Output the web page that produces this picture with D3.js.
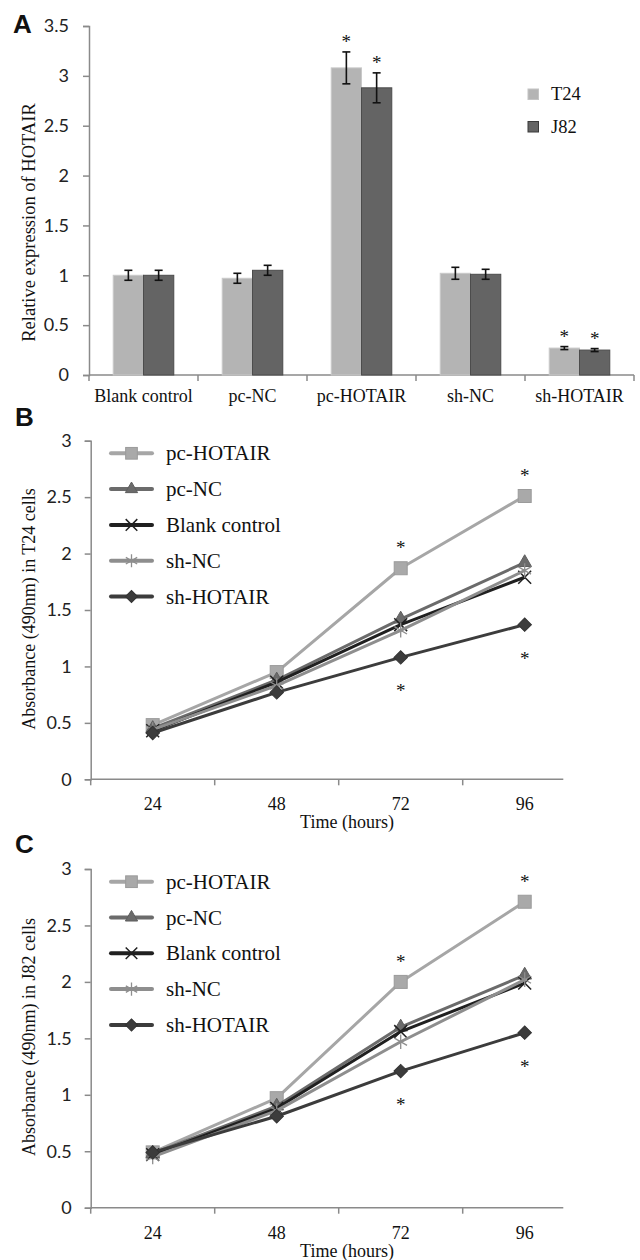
<!DOCTYPE html>
<html><head><meta charset="utf-8">
<script src="https://cdn.jsdelivr.net/npm/d3@7"></script>
<style>body{margin:0;background:#fff}svg{display:block}</style>
</head><body>
<svg id="chart" width="640" height="1260"></svg>
<script>
// ---------- data ----------
const categories = ["Blank control", "pc-NC", "pc-HOTAIR", "sh-NC", "sh-HOTAIR"];
const cellLines = ["T24", "J82"];
const t24Values = [1.00, 0.97, 3.08, 1.02, 0.27];
const t24Errors = [0.05, 0.05, 0.16, 0.06, 0.015];
const j82Values = [1.00, 1.05, 2.88, 1.01, 0.25];
const j82Errors = [0.05, 0.05, 0.15, 0.05, 0.015];
const barSignificant = [false, false, true, false, true];
const barTicks = [0, 0.5, 1, 1.5, 2, 2.5, 3, 3.5];

const timePoints = [24, 48, 72, 96];
const groups = ["pc-HOTAIR", "pc-NC", "Blank control", "sh-NC", "sh-HOTAIR"];
const pcHotairT24 = [0.48, 0.95, 1.87, 2.51];
const pcNcT24 = [0.45, 0.88, 1.42, 1.92];
const blankT24 = [0.43, 0.86, 1.37, 1.79];
const shNcT24 = [0.44, 0.83, 1.32, 1.85];
const shHotairT24 = [0.41, 0.77, 1.08, 1.37];
const pcHotairJ82 = [0.49, 0.97, 2.00, 2.71];
const pcNcJ82 = [0.48, 0.90, 1.60, 2.06];
const blankJ82 = [0.47, 0.88, 1.56, 1.99];
const shNcJ82 = [0.45, 0.86, 1.47, 2.02];
const shHotairJ82 = [0.49, 0.81, 1.21, 1.55];
const lineSigUp = [false, false, true, true];     // pc-HOTAIR
const lineSigDown = [false, false, true, true];   // sh-HOTAIR
const lineTicks = [0, 0.5, 1, 1.5, 2, 2.5, 3];

// ---------- styles ----------
const SERIF = "'Liberation Serif','Times New Roman',serif";
const SANS = "Lato,'Open Sans',sans-serif";
const AXIS = "#8a8a8a";
const barFill = {T24: "#b4b4b4", J82: "#646464"};
const barStroke = {T24: "#c9c9c9", J82: "#4c4c4c"};
const seriesStyle = {
  "pc-HOTAIR": {color: "#a6a6a6", marker: "square", mfill: "#a9a9a9", mstroke: "#9b9b9b"},
  "pc-NC": {color: "#6b6b6b", marker: "triangle", mfill: "#6b6b6b", mstroke: "#5e5e5e"},
  "Blank control": {color: "#202020", marker: "x", mfill: "none", mstroke: "#202020"},
  "sh-NC": {color: "#8e8e8e", marker: "asterisk", mfill: "none", mstroke: "#8e8e8e"},
  "sh-HOTAIR": {color: "#3c3c3c", marker: "diamond", mfill: "#3c3c3c", mstroke: "#333"}
};

const svg = d3.select("#chart");
svg.append("rect").attr("width", 640).attr("height", 1260).attr("fill", "#fff");

function panelLetter(t, x, y) {
  svg.append("text").text(t).attr("x", x).attr("y", y)
    .attr("font-family", "'Liberation Sans',Arial,sans-serif").attr("font-weight", "bold")
    .attr("font-size", 26).attr("fill", "#111");
}
function styleAxis(g) {
  g.select(".domain").attr("stroke", AXIS).attr("stroke-width", 1.5);
  g.selectAll(".tick line").attr("stroke", AXIS).attr("stroke-width", 1.5);
}

// ================= Panel A =================
(function () {
  const left = 89, right = 634, top = 26, bottom = 375;
  const y = d3.scaleLinear().domain([0, 3.5]).range([bottom, top]);
  const x0 = d3.scaleBand().domain(categories).range([left, right]);
  const x1 = d3.scaleBand().domain(cellLines).range([0, x0.bandwidth()]).paddingOuter(0.8);

  panelLetter("A", 13, 33);

  const ya = svg.append("g").attr("transform", `translate(${left},0)`)
    .call(d3.axisLeft(y).tickValues(barTicks).tickSize(6).tickPadding(14).tickFormat(d => String(d)));
  styleAxis(ya);
  ya.selectAll("text").attr("font-family", SANS).attr("font-size", 18).attr("fill", "#222");

  // bottom axis with ticks at band boundaries
  const xa = svg.append("g");
  xa.append("line").attr("x1", left).attr("x2", right).attr("y1", bottom).attr("y2", bottom)
    .attr("stroke", AXIS).attr("stroke-width", 1.5);
  const bounds = categories.map(c => x0(c)).concat([x0(categories[categories.length - 1]) + x0.bandwidth()]);
  xa.selectAll("line.tk").data(bounds).join("line").attr("class", "tk")
    .attr("x1", d => d).attr("x2", d => d).attr("y1", bottom).attr("y2", bottom + 6)
    .attr("stroke", AXIS).attr("stroke-width", 1.5);
  xa.selectAll("text").data(categories).join("text")
    .attr("x", d => x0(d) + x0.bandwidth() / 2).attr("y", bottom + 27)
    .attr("text-anchor", "middle").attr("font-family", SERIF).attr("font-size", 18).attr("fill", "#111")
    .text(d => d);

  svg.append("text").attr("transform", `translate(35,${(top + bottom) / 2 + 22}) rotate(-90)`)
    .attr("text-anchor", "middle").attr("font-family", SERIF).attr("font-size", 18.5).attr("fill", "#111")
    .text("Relative expression of HOTAIR");

  const rows = [];
  categories.forEach((c, i) => {
    rows.push({cat: c, line: "T24", v: t24Values[i], e: t24Errors[i], sig: barSignificant[i]});
    rows.push({cat: c, line: "J82", v: j82Values[i], e: j82Errors[i], sig: barSignificant[i]});
  });
  const bx = d => x0(d.cat) + x1(d.line);
  svg.append("g").selectAll("rect").data(rows).join("rect")
    .attr("x", bx).attr("width", x1.bandwidth())
    .attr("y", d => y(d.v)).attr("height", d => y(0) - y(d.v))
    .attr("fill", d => barFill[d.line]).attr("stroke", d => barStroke[d.line]).attr("stroke-width", 1);
  const eb = svg.append("g").attr("stroke", "#111").attr("stroke-width", 1.6);
  rows.forEach(d => {
    const cx = bx(d) + x1.bandwidth() / 2;
    eb.append("line").attr("x1", cx).attr("x2", cx).attr("y1", y(d.v + d.e)).attr("y2", y(d.v - d.e));
    eb.append("line").attr("x1", cx - 4).attr("x2", cx + 4).attr("y1", y(d.v + d.e)).attr("y2", y(d.v + d.e));
    eb.append("line").attr("x1", cx - 4).attr("x2", cx + 4).attr("y1", y(d.v - d.e)).attr("y2", y(d.v - d.e));
  });
  svg.append("g").selectAll("text").data(rows.filter(d => d.sig)).join("text")
    .attr("x", d => bx(d) + x1.bandwidth() / 2).attr("y", d => y(d.v + d.e) - 4)
    .attr("text-anchor", "middle").attr("font-family", SERIF).attr("font-size", 19).attr("fill", "#111")
    .text("*");

  // legend
  const lg = svg.append("g");
  cellLines.forEach((l, i) => {
    lg.append("rect").attr("x", 528).attr("y", 89 + i * 32.5).attr("width", 10.5).attr("height", 10.5)
      .attr("fill", barFill[l]).attr("stroke", l === "J82" ? "#3a3a3a" : "#c4c4c4").attr("stroke-width", 1);
    lg.append("text").attr("x", 551).attr("y", 100 + i * 33).attr("font-family", SERIF)
      .attr("font-size", 18.5).attr("fill", "#111").text(l);
  });
})();

// ================= Line panels =================
function drawMarker(g, type, cx, cy, st, scale) {
  const s = scale || 1;
  if (type === "square") {
    g.append("rect").attr("x", cx - 6.5 * s).attr("y", cy - 6.5 * s).attr("width", 13 * s).attr("height", 13 * s)
      .attr("fill", st.mfill).attr("stroke", st.mstroke).attr("stroke-width", 1);
  } else if (type === "triangle") {
    g.append("path").attr("d", d3.symbol(d3.symbolTriangle, 80 * s * s)())
      .attr("transform", `translate(${cx},${cy})`).attr("fill", st.mfill).attr("stroke", st.mstroke).attr("stroke-width", 1);
  } else if (type === "diamond") {
    g.append("path").attr("d", d3.symbol(d3.symbolSquare, 90 * s * s)())
      .attr("transform", `translate(${cx},${cy}) rotate(45)`).attr("fill", st.mfill).attr("stroke", st.mstroke).attr("stroke-width", 1);
  } else if (type === "x") {
    g.append("path").attr("d", d3.symbol(d3.symbolX, 110 * s * s)())
      .attr("transform", `translate(${cx},${cy})`).attr("fill", "none").attr("stroke", st.mstroke).attr("stroke-width", 1.5);
  } else if (type === "asterisk") {
    g.append("path").attr("d", d3.symbol(d3.symbolAsterisk, 150 * s * s)())
      .attr("transform", `translate(${cx},${cy})`).attr("fill", "none").attr("stroke", st.mstroke).attr("stroke-width", 1.3);
  }
}

function linePanel(opt) {
  const left = 90.7, bandRight = 586.7, axisRight = 563.3;
  const y = d3.scaleLinear().domain([0, 3]).range([opt.bottom, opt.top]);
  const xb = d3.scaleBand().domain(timePoints).range([left, bandRight]);
  const xc = t => xb(t) + xb.bandwidth() / 2;

  panelLetter(opt.letter, 15, opt.letterY);

  const ya = svg.append("g").attr("transform", `translate(${left},0)`)
    .call(d3.axisLeft(y).tickValues(lineTicks).tickSize(6).tickPadding(13).tickFormat(d => String(d)));
  styleAxis(ya);
  ya.selectAll("text").attr("font-family", SANS).attr("font-size", 18).attr("fill", "#222");

  const xa = svg.append("g");
  xa.append("line").attr("x1", left).attr("x2", axisRight).attr("y1", opt.bottom).attr("y2", opt.bottom)
    .attr("stroke", AXIS).attr("stroke-width", 1.5);
  xa.selectAll("line.tk").data(timePoints).join("line").attr("class", "tk")
    .attr("x1", d => xb(d)).attr("x2", d => xb(d)).attr("y1", opt.bottom).attr("y2", opt.bottom + 6)
    .attr("stroke", AXIS).attr("stroke-width", 1.5);
  xa.selectAll("text").data(timePoints).join("text")
    .attr("x", d => xc(d)).attr("y", opt.bottom + 31).attr("text-anchor", "middle")
    .attr("font-family", SERIF).attr("font-size", 18).attr("fill", "#111").text(d => d);
  svg.append("text").attr("x", 347).attr("y", opt.bottom + 49).attr("text-anchor", "middle")
    .attr("font-family", SERIF).attr("font-size", 18).attr("fill", "#111").text("Time (hours)");

  svg.append("text").attr("transform", `translate(35,${opt.labelY}) rotate(-90)`)
    .attr("text-anchor", "middle").attr("font-family", SERIF).attr("font-size", 18).attr("fill", "#111")
    .text(opt.yLabel);

  const line = d3.line().x((d, i) => xc(timePoints[i])).y(d => y(d));
  const plot = svg.append("g");
  groups.forEach((gname, gi) => {
    const st = seriesStyle[gname];
    const vals = opt.series[gi];
    plot.append("path").datum(vals).attr("d", line).attr("fill", "none")
      .attr("stroke", st.color).attr("stroke-width", 3).attr("stroke-linejoin", "round");
    const mg = plot.append("g");
    vals.forEach((v, i) => drawMarker(mg, st.marker, xc(timePoints[i]), y(v), st, 1));
  });

  // significance stars
  const stars = svg.append("g").attr("font-family", SERIF).attr("font-size", 19).attr("fill", "#111").attr("text-anchor", "middle");
  timePoints.forEach((t, i) => {
    if (lineSigUp[i]) stars.append("text").attr("x", xc(t)).attr("y", y(opt.series[0][i]) - 14).text("*");
    if (lineSigDown[i]) stars.append("text").attr("x", xc(t)).attr("y", y(opt.series[4][i]) + 40).text("*");
  });

  // legend
  const lg = svg.append("g");
  groups.forEach((gname, gi) => {
    const st = seriesStyle[gname];
    const ly = opt.legendY + gi * 35.8;
    lg.append("line").attr("x1", 111).attr("x2", 152).attr("y1", ly).attr("y2", ly)
      .attr("stroke", st.color).attr("stroke-width", 4).attr("stroke-linecap", "round");
    drawMarker(lg, st.marker, 131.5, ly, st, 0.9);
    lg.append("text").attr("x", 166).attr("y", ly + 7).attr("font-family", SERIF).attr("font-size", 21)
      .attr("fill", "#111").text(gname);
  });
}

linePanel({
  letter: "B", letterY: 426, top: 440.7, bottom: 779.3, labelY: 609, legendY: 453.3,
  yLabel: "Absorbance (490nm) in T24 cells",
  series: [pcHotairT24, pcNcT24, blankT24, shNcT24, shHotairT24]
});
linePanel({
  letter: "C", letterY: 853, top: 869, bottom: 1207.7, labelY: 1037, legendY: 881.7,
  yLabel: "Absorbance (490nm) in J82 cells",
  series: [pcHotairJ82, pcNcJ82, blankJ82, shNcJ82, shHotairJ82]
});
</script>
</body></html>
